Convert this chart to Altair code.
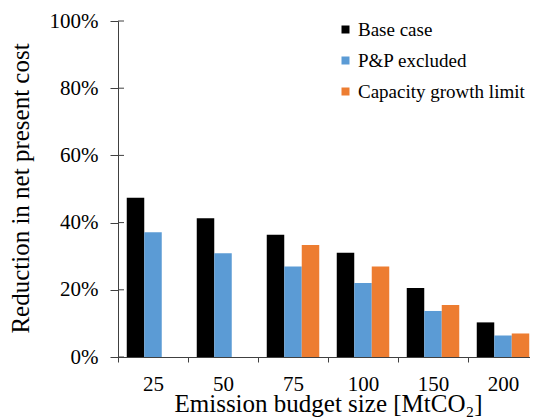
import altair as alt
import pandas as pd

budgets = ["25", "50", "75", "100", "150", "200"]
series = ["Base case", "P&P excluded", "Capacity growth limit"]
colors = ["#000000", "#5B9BD5", "#ED7D31"]
base_case = [47.4, 41.3, 36.4, 31.0, 20.5, 10.3]
pp_excluded = [37.1, 30.9, 26.9, 22.0, 13.7, 6.4]
cap_limit = [None, None, 33.3, 26.9, 15.5, 7.0]
y_ticks = [0, 0.2, 0.4, 0.6, 0.8, 1.0]

rows = []
for name, vals in zip(series, [base_case, pp_excluded, cap_limit]):
    for b, v in zip(budgets, vals):
        if v is not None:
            rows.append({"budget": b, "series": name, "value": v / 100})
df = pd.DataFrame(rows)
ticks_df = pd.DataFrame({"t": y_ticks})

FONT = "Liberation Serif"
AXIS_COLOR = "#404040"

y_scale = alt.Scale(domain=[0, 1])

bars = alt.Chart(df).mark_bar().encode(
    x=alt.X("budget:N", sort=budgets,
            scale=alt.Scale(paddingInner=0, paddingOuter=0, range=[0, 420]),
            axis=alt.Axis(title="Emission budget size [MtCO₂]", labelAngle=0,
                          tickBand="extent", tickSize=5, labelPadding=11,
                          labelFont=FONT, titleFont=FONT,
                          labelFontSize=21, titleFontSize=25,
                          titleX=210, titleY=54, titleBaseline="alphabetic")),
    xOffset=alt.XOffset("series:N", sort=series,
                        scale=alt.Scale(domain=series, paddingInner=0, paddingOuter=0.5)),
    y=alt.Y("value:Q", scale=y_scale,
            axis=alt.Axis(title="Reduction in  net present cost", format=".0%",
                          values=y_ticks, tickSize=8, labelPadding=12,
                          labelFont=FONT, titleFont=FONT,
                          labelFontSize=21, titleFontSize=25,
                          titleX=-90, titleY=167, titleBaseline="alphabetic")),
    color=alt.Color("series:N", sort=series,
                    scale=alt.Scale(domain=series, range=colors),
                    legend=alt.Legend(title=None, orient="none", legendX=218, legendY=-1,
                                      symbolType="square", symbolSize=64,
                                      symbolStrokeWidth=0, labelFont=FONT,
                                      labelFontSize=19, labelLimit=400,
                                      labelOffset=3, rowPadding=11, padding=0)),
)

inner_ticks = alt.Chart(ticks_df).mark_rule(color=AXIS_COLOR, strokeWidth=1).encode(
    y=alt.Y("t:Q", scale=y_scale),
    x=alt.value(0),
    x2=alt.value(6),
)

chart = alt.layer(bars, inner_ticks).properties(
    width=412, height=336,
    autosize="none",
    padding={"left": 110, "top": 13, "right": 0, "bottom": 63},
).configure(font=FONT).configure_view(stroke=None).configure_axis(
    labelFont=FONT, titleFont=FONT, labelColor="#000000", titleColor="#000000",
    titleFontWeight="normal", domainColor=AXIS_COLOR, tickColor=AXIS_COLOR,
    grid=False,
).configure_legend(labelFont=FONT, labelColor="#000000")

chart.save("out.html", embed_options={"renderer": "svg", "actions": False})
